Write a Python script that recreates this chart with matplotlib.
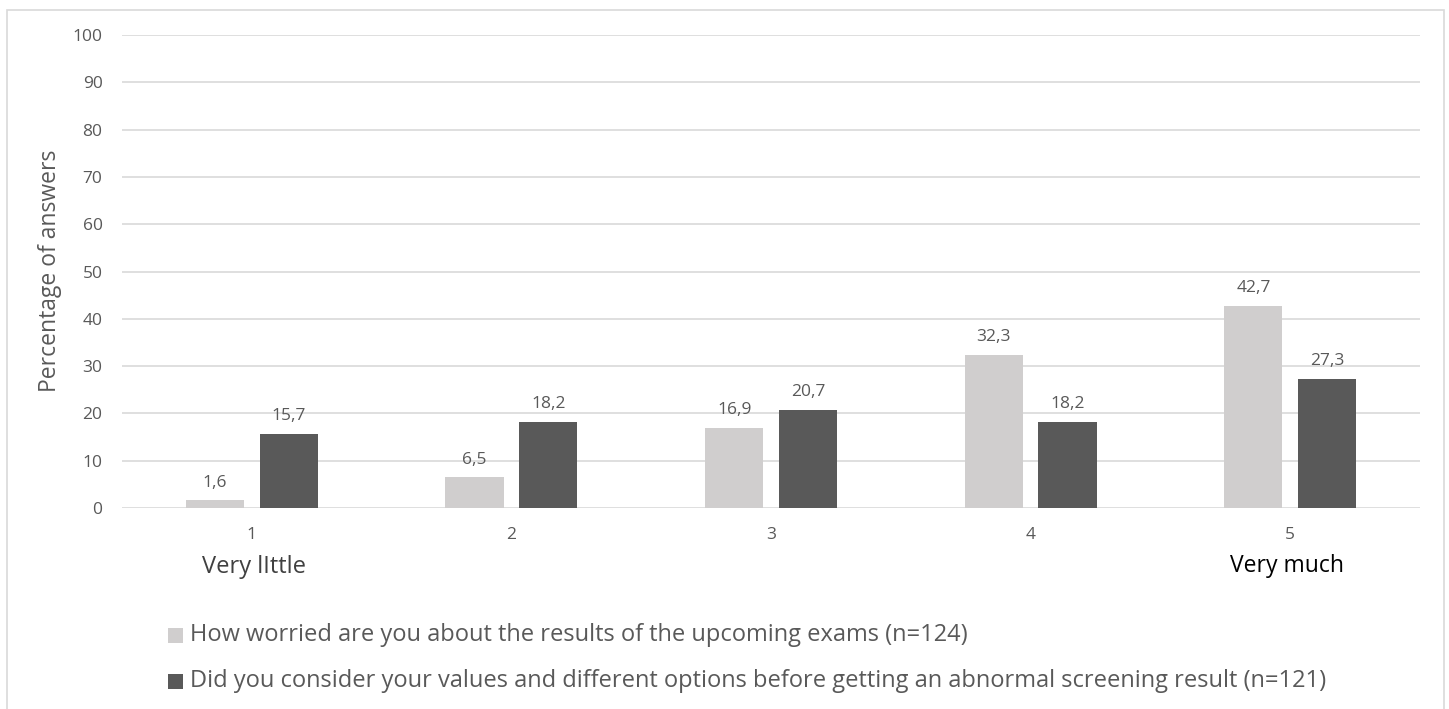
import matplotlib
matplotlib.use("Agg")
import matplotlib.pyplot as plt
from matplotlib.patches import Rectangle
import numpy as np

categories = ["1", "2", "3", "4", "5"]
worried = [1.6, 6.5, 16.9, 32.3, 42.7]
considered = [15.7, 18.2, 20.7, 18.2, 27.3]
series_names = [
    "How worried are you about the results of the upcoming exams (n=124)",
    "Did you consider your values and different options before getting an abnormal screening result (n=121)",
]
yticks = [0, 10, 20, 30, 40, 50, 60, 70, 80, 90, 100]

plt.rcParams['font.family'] = ['Open Sans', 'DejaVu Sans']

W, H = 1449, 709
fig = plt.figure(figsize=(W / 100, H / 100), dpi=100)
fig.patch.set_facecolor('white')

# figure border
fig.add_artist(Rectangle((7 / W, -0.05), (1444 - 7) / W, 1 - 10 / H + 0.05,
                         transform=fig.transFigure, fill=False,
                         edgecolor='#D9D9D9', linewidth=1.2))

ax = fig.add_axes([122 / W, 1 - 508 / H, (1420 - 122) / W, (508 - 35) / H])
x = np.arange(len(categories))
bw = 0.224
off = 0.142
light = '#D0CECE'
dark = '#595959'
txt = '#595959'

b1 = ax.bar(x - off, worried, bw, color=light, label=series_names[0], zorder=3)
b2 = ax.bar(x + off, considered, bw, color=dark, label=series_names[1], zorder=3)

for bars, vals in ((b1, worried), (b2, considered)):
    for r, v in zip(bars, vals):
        ax.annotate(f"{v:.1f}".replace('.', ','),
                    (r.get_x() + r.get_width() / 2, v),
                    xytext=(0, 7), textcoords='offset points',
                    ha='center', va='bottom', fontsize=12.5, color=txt)

ax.set_xlim(-0.5, len(categories) - 0.5)
ax.set_ylim(0, 100)
ax.set_yticks(yticks)
ax.set_xticks(x)
ax.set_xticklabels(categories)
ax.tick_params(axis='both', length=0, labelsize=12.5, labelcolor=txt)
ax.tick_params(axis='y', pad=14)
ax.tick_params(axis='x', pad=14)
ax.grid(axis='y', color='#D9D9D9', linewidth=1.2, zorder=0)
for s in ax.spines.values():
    s.set_visible(False)

fig.text(50 / W, 1 - 271 / H, "Percentage of answers", rotation=90,
         ha='center', va='center', fontsize=16.5, color=txt)

fig.text(254 / W, 1 - 567 / H, "Very lIttle", ha='center', va='center',
         fontsize=17, color='#404040')
fig.text(1287 / W, 1 - 566 / H, "Very much", ha='center', va='center',
         fontsize=16.5, color='#000000')

# legend
for i, (name, col) in enumerate(zip(series_names, [light, dark])):
    yc = 1 - (635 + 46 * i) / H
    fig.add_artist(Rectangle((168 / W, yc - 7.5 / H), 15 / W, 15 / H,
                             transform=fig.transFigure, facecolor=col,
                             edgecolor='none'))
    fig.text(190 / W, yc, name, ha='left', va='center', fontsize=17, color=txt)

fig.savefig("out.png", dpi=100, facecolor='white')
